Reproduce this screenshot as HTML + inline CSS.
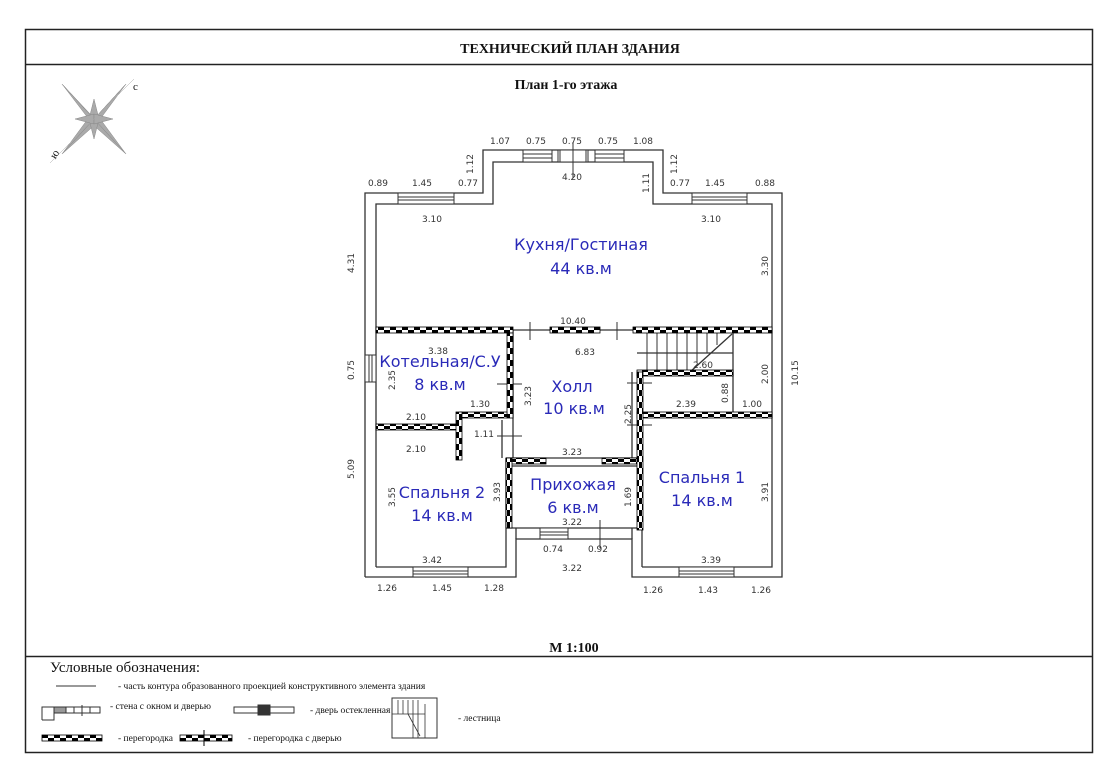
<!DOCTYPE html>
<html><head><meta charset="utf-8"><style>
html,body{margin:0;padding:0;background:#fff;}
svg{display:block}
.d{font-family:"DejaVu Sans","Liberation Sans",sans-serif;font-size:9px;fill:#333}
.r{font-family:"DejaVu Sans","Liberation Sans",sans-serif;font-size:16px;fill:#2a2ab8}
.s{font-family:"Liberation Serif",serif;fill:#111}
</style></head><body>
<svg width="1115" height="780" viewBox="0 0 1115 780" xmlns="http://www.w3.org/2000/svg">
<defs>
<pattern id="ck" width="12" height="6" patternUnits="userSpaceOnUse">
<rect width="12" height="6" fill="#fff"/><rect x="0" y="0" width="6" height="3" fill="#000"/><rect x="6" y="3" width="6" height="3" fill="#000"/>
</pattern>
<pattern id="ckv" width="6" height="12" patternUnits="userSpaceOnUse">
<rect width="6" height="12" fill="#fff"/><rect x="0" y="0" width="3" height="6" fill="#000"/><rect x="3" y="6" width="3" height="6" fill="#000"/>
</pattern>
</defs>
<!-- frame -->
<rect x="25.5" y="29.5" width="1067" height="723" fill="none" stroke="#222" stroke-width="1.5"/>
<line x1="25" y1="64.5" x2="1092" y2="64.5" stroke="#222" stroke-width="1.5"/>
<line x1="25" y1="656.5" x2="1092" y2="656.5" stroke="#222" stroke-width="1.5"/>
<text x="570" y="53" text-anchor="middle" class="s" font-size="14" font-weight="bold">ТЕХНИЧЕСКИЙ ПЛАН ЗДАНИЯ</text>
<text x="566" y="89" text-anchor="middle" class="s" font-size="14" font-weight="bold">План  1-го  этажа</text>
<text x="574" y="652" text-anchor="middle" class="s" font-size="14" font-weight="bold">М 1:100</text>
<!-- compass -->
<g transform="translate(94,119)" fill="#aaa" stroke="#888" stroke-width="0.5">
<polygon points="-32,-35 -4,-3 0,0 -3,-4"/>
<polygon points="-32,-35 -3,3 0,0"/>
<polygon points="32,-35 3,-3 0,0"/><polygon points="32,-35 4,3 0,0"/>
<polygon points="32,35 4,-3 0,0"/><polygon points="32,35 -3,4 0,0"/>
<polygon points="-32,35 -4,-3 0,0"/><polygon points="-32,35 3,4 0,0"/>
<polygon points="0,-20 -5,0 5,0"/><polygon points="0,20 -5,0 5,0"/>
<polygon points="-19,0 0,-5 0,5"/><polygon points="19,0 0,-5 0,5"/>
<line x1="-44" y1="44" x2="40" y2="-40" stroke="#aaa"/>
</g>
<text x="133" y="90" class="s" font-size="11" fill="#555">с</text>
<text x="50" y="158" class="s" font-size="11" fill="#555" transform="rotate(-60 54 154)">ю</text>
<!-- outer walls -->
<g fill="none" stroke="#333" stroke-width="1.3">
<polyline points="365,577 365,193 483,193 483,150 663,150 663,193 782,193 782,577 632,577 632,539 516,539 516,577 365,577"/>
<polyline points="376,567 376,204 493,204 493,162 653,162 653,204 772,204 772,567 642,567"/>
<polyline points="376,567 506,567 506,458"/>
<line x1="642" y1="567" x2="642" y2="415"/>
<line x1="516" y1="539" x2="516" y2="528"/><line x1="632" y1="539" x2="632" y2="528"/>
<line x1="506" y1="528" x2="642" y2="528"/>
<line x1="513" y1="330" x2="513" y2="458"/><line x1="502" y1="420" x2="502" y2="458"/>
<line x1="632" y1="372" x2="632" y2="458"/><line x1="642" y1="372" x2="642" y2="415"/>
<line x1="376" y1="330" x2="772" y2="330"/>
<line x1="506" y1="458" x2="642" y2="458"/><line x1="512" y1="466" x2="637" y2="466"/>
<line x1="637" y1="353" x2="733" y2="353"/>
<line x1="733" y1="333" x2="733" y2="412"/>
<line x1="690" y1="372" x2="732" y2="334"/>
</g>
<g stroke="#333" stroke-width="1">
<line x1="647" y1="333" x2="647" y2="372"/><line x1="657" y1="333" x2="657" y2="372"/><line x1="667" y1="333" x2="667" y2="372"/><line x1="677" y1="333" x2="677" y2="372"/><line x1="687" y1="333" x2="687" y2="372"/><line x1="697" y1="333" x2="697" y2="362"/><line x1="707" y1="333" x2="707" y2="353"/><line x1="717" y1="333" x2="717" y2="345"/>
<line x1="530" y1="322" x2="530" y2="340"/><line x1="617" y1="322" x2="617" y2="340"/>
<line x1="497" y1="384" x2="522" y2="384"/><line x1="497" y1="436" x2="522" y2="436"/>
<line x1="627" y1="383" x2="652" y2="383"/><line x1="627" y1="425" x2="652" y2="425"/>
<line x1="600" y1="520" x2="600" y2="548"/>
</g>
<!-- partitions -->
<g stroke="#000" stroke-width="0.8">
<rect x="376" y="327" width="137" height="6" fill="url(#ck)"/>
<rect x="550" y="327" width="50" height="6" fill="url(#ck)"/>
<rect x="633" y="327" width="139" height="6" fill="url(#ck)"/>
<rect x="507" y="333" width="6" height="85" fill="url(#ckv)"/>
<rect x="460" y="412" width="47" height="6" fill="url(#ck)"/>
<rect x="376" y="424" width="84" height="6" fill="url(#ck)"/>
<rect x="456" y="412" width="6" height="48" fill="url(#ckv)"/>
<rect x="637" y="370" width="96" height="6" fill="url(#ck)"/>
<rect x="637" y="412" width="135" height="6" fill="url(#ck)"/>
<rect x="506" y="458" width="40" height="6" fill="url(#ck)"/>
<rect x="602" y="458" width="35" height="6" fill="url(#ck)"/>
<rect x="506" y="458" width="6" height="70" fill="url(#ckv)"/>
<rect x="637" y="372" width="6" height="158" fill="url(#ckv)"/>
</g>
<!-- windows -->
<g fill="#fff" stroke="#333" stroke-width="1">
<rect x="398" y="193" width="56" height="11"/><line x1="398" y1="197" x2="454" y2="197"/><line x1="398" y1="200" x2="454" y2="200"/>
<rect x="692" y="193" width="55" height="11"/><line x1="692" y1="197" x2="747" y2="197"/><line x1="692" y1="200" x2="747" y2="200"/>
<rect x="523" y="150" width="29" height="12"/><line x1="523" y1="154" x2="552" y2="154"/><line x1="523" y1="158" x2="552" y2="158"/>
<rect x="595" y="150" width="29" height="12"/><line x1="595" y1="154" x2="624" y2="154"/><line x1="595" y1="158" x2="624" y2="158"/>
<rect x="558" y="150" width="30" height="12"/><line x1="560" y1="150" x2="560" y2="162"/><line x1="586" y1="150" x2="586" y2="162"/>
<rect x="413" y="567" width="55" height="10"/><line x1="413" y1="571" x2="468" y2="571"/><line x1="413" y1="574" x2="468" y2="574"/>
<rect x="679" y="567" width="55" height="10"/><line x1="679" y1="571" x2="734" y2="571"/><line x1="679" y1="574" x2="734" y2="574"/>
<rect x="365" y="355" width="11" height="27"/><line x1="369" y1="355" x2="369" y2="382"/><line x1="372" y1="355" x2="372" y2="382"/>
<rect x="540" y="528" width="28" height="11"/><line x1="540" y1="532" x2="568" y2="532"/><line x1="540" y1="535" x2="568" y2="535"/>
</g>
<line x1="573" y1="142" x2="573" y2="178" stroke="#333"/>
<!-- dimension labels -->
<g class="d" text-anchor="middle">
<text x="500" y="144">1.07</text><text x="536" y="144">0.75</text><text x="572" y="144">0.75</text><text x="608" y="144">0.75</text><text x="643" y="144">1.08</text>
<text x="378" y="186">0.89</text><text x="422" y="186">1.45</text><text x="468" y="186">0.77</text>
<text x="572" y="180">4.20</text>
<text x="680" y="186">0.77</text><text x="715" y="186">1.45</text><text x="765" y="186">0.88</text>
<text x="432" y="222">3.10</text><text x="711" y="222">3.10</text>
<text x="573" y="324">10.40</text><text x="438" y="354">3.38</text><text x="585" y="355">6.83</text>
<text x="703" y="368">2.60</text>
<text x="480" y="407">1.30</text><text x="416" y="420">2.10</text><text x="416" y="452">2.10</text>
<text x="484" y="437">1.11</text><text x="572" y="455">3.23</text>
<text x="686" y="407">2.39</text><text x="752" y="407">1.00</text>
<text x="572" y="525">3.22</text><text x="553" y="552">0.74</text><text x="598" y="552">0.92</text><text x="572" y="571">3.22</text>
<text x="432" y="563">3.42</text><text x="711" y="563">3.39</text>
<text x="387" y="591">1.26</text><text x="442" y="591">1.45</text><text x="494" y="591">1.28</text>
<text x="653" y="593">1.26</text><text x="708" y="593">1.43</text><text x="761" y="593">1.26</text>
<text transform="translate(473,164) rotate(-90)">1.12</text>
<text transform="translate(677,164) rotate(-90)">1.12</text>
<text transform="translate(649,183) rotate(-90)">1.11</text>
<text transform="translate(354,263) rotate(-90)">4.31</text>
<text transform="translate(768,266) rotate(-90)">3.30</text>
<text transform="translate(354,370) rotate(-90)">0.75</text>
<text transform="translate(395,380) rotate(-90)">2.35</text>
<text transform="translate(531,396) rotate(-90)">3.23</text>
<text transform="translate(631,414) rotate(-90)">2.25</text>
<text transform="translate(768,374) rotate(-90)">2.00</text>
<text transform="translate(728,393) rotate(-90)">0.88</text>
<text transform="translate(798,373) rotate(-90)">10.15</text>
<text transform="translate(354,469) rotate(-90)">5.09</text>
<text transform="translate(395,497) rotate(-90)">3.55</text>
<text transform="translate(500,492) rotate(-90)">3.93</text>
<text transform="translate(631,497) rotate(-90)">1.69</text>
<text transform="translate(768,492) rotate(-90)">3.91</text>
</g>
<!-- room labels -->
<g class="r" text-anchor="middle">
<text x="581" y="250">Кухня/Гостиная</text><text x="581" y="274">44  кв.м</text>
<text x="440" y="367">Котельная/С.У</text><text x="440" y="390">8  кв.м</text>
<text x="572" y="392">Холл</text><text x="574" y="414">10  кв.м</text>
<text x="442" y="498">Спальня  2</text><text x="442" y="521">14  кв.м</text>
<text x="573" y="490">Прихожая</text><text x="573" y="513">6  кв.м</text>
<text x="702" y="483">Спальня  1</text><text x="702" y="506">14  кв.м</text>
</g>
<!-- legend -->
<text x="50" y="672" class="s" font-size="15">Условные обозначения:</text>
<line x1="56" y1="686" x2="96" y2="686" stroke="#333"/>
<text x="118" y="689" class="s" font-size="9.5">-  часть контура образованного проекцией  конструктивного элемента здания</text>
<g fill="none" stroke="#333" stroke-width="1">
<polyline points="42,720 42,707 100,707 100,713 54,713 54,720 42,720"/>
<rect x="54" y="707" width="12" height="6" fill="#999"/>
<line x1="74" y1="707" x2="74" y2="713"/><line x1="82" y1="705" x2="82" y2="716"/><line x1="90" y1="707" x2="90" y2="713"/>
<rect x="234" y="707" width="60" height="6"/>
<rect x="258" y="705" width="12" height="10" fill="#333"/>
<rect x="392" y="698" width="45" height="40"/>
</g>
<g stroke="#333" stroke-width="0.8">
<line x1="398" y1="700" x2="398" y2="714"/><line x1="403" y1="700" x2="403" y2="714"/><line x1="408" y1="700" x2="408" y2="714"/><line x1="413" y1="700" x2="413" y2="738"/><line x1="418" y1="700" x2="418" y2="738"/>
<line x1="392" y1="714" x2="425" y2="714"/><line x1="425" y1="704" x2="425" y2="738"/><line x1="408" y1="714" x2="420" y2="736"/>
</g>
<text x="110" y="709" class="s" font-size="9.5">-  стена с окном и дверью</text>
<text x="310" y="713" class="s" font-size="9.5">-  дверь остекленная</text>
<text x="458" y="721" class="s" font-size="9.5">-  лестница</text>
<rect x="42" y="735" width="60" height="6" fill="url(#ck)" stroke="#000" stroke-width="0.8"/>
<text x="118" y="741" class="s" font-size="9.5">-  перегородка</text>
<rect x="180" y="735" width="52" height="6" fill="url(#ck)" stroke="#000" stroke-width="0.8"/>
<line x1="204" y1="730" x2="204" y2="746" stroke="#000"/>
<text x="248" y="741" class="s" font-size="9.5">-  перегородка с дверью</text>
</svg>
</body></html>
